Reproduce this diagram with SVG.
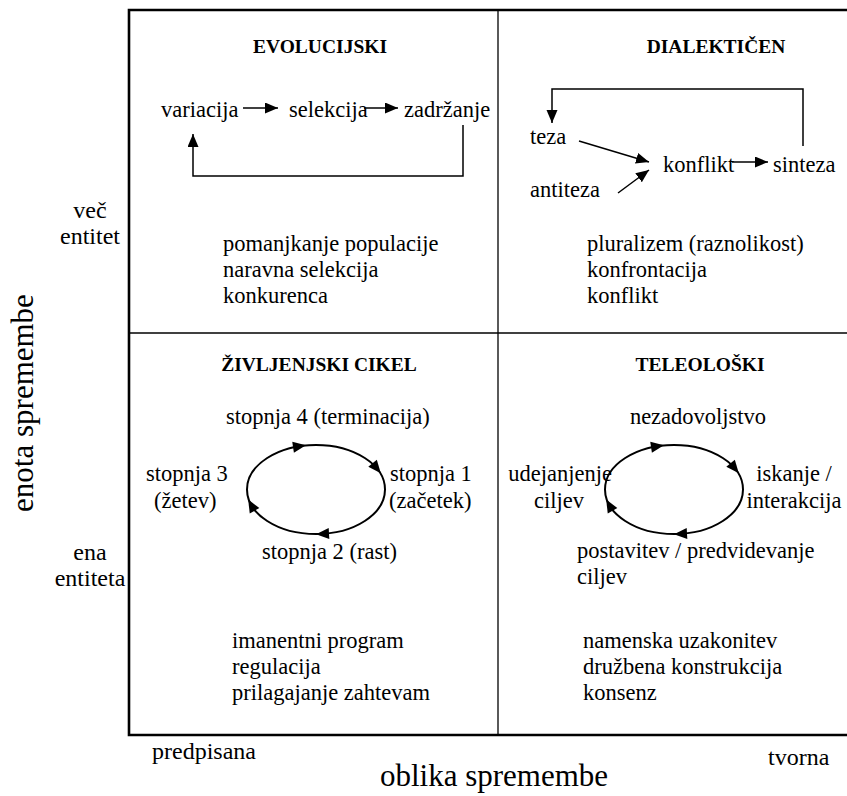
<svg xmlns="http://www.w3.org/2000/svg" xmlns:xlink="http://www.w3.org/1999/xlink" width="847" height="796" viewBox="0 0 847 796">
  <style>
    text { font-family: "Liberation Serif", "Times New Roman", serif; fill: #000; }
    .t { font-size: 22.5px; }
    .h { font-size: 19.5px; font-weight: bold; text-anchor: middle; }
    .ax { font-size: 24px; }
    .axl { font-size: 31px; }
    .mid { text-anchor: middle; }
    .end { text-anchor: end; }
    .frame { fill: none; stroke: #000; stroke-width: 2.6; }
    .div { fill: none; stroke: #000; stroke-width: 1.3; }
    .ln { fill: none; stroke: #000; stroke-width: 1.5; }
    .cyc { fill: none; stroke: #000; stroke-width: 2; }
  </style>
  <defs>
    <marker id="arr" markerUnits="userSpaceOnUse" markerWidth="15" markerHeight="12" refX="13" refY="5.5" orient="auto">
      <path d="M0,0 L13,5.5 L0,11 Z" fill="#000"/>
    </marker>
    <!-- arrowhead placed along the cycle ellipses -->
    <path id="ah" d="M6,0 L-7,-5.5 L-7,5.5 Z" fill="#000"/>
  </defs>

  <!-- outer frame and quadrant dividers -->
  <g id="frame">
    <path class="frame" d="M860,10 H129 V735 H860"/>
    <line class="div" x1="498" y1="10" x2="498" y2="735"/>
    <line class="div" x1="129" y1="333" x2="860" y2="333"/>
  </g>

  <!-- vertical axis -->
  <g id="axis-y">
    <text class="ax mid" x="90" y="218">več</text>
    <text class="ax mid" x="90" y="244">entitet</text>
    <text class="axl mid" font-size="30" transform="translate(33,403) rotate(-90)">enota spremembe</text>
    <text class="ax mid" x="90" y="560">ena</text>
    <text class="ax mid" x="90" y="586">entiteta</text>
  </g>

  <!-- horizontal axis -->
  <g id="axis-x">
    <text class="ax" x="152" y="759">predpisana</text>
    <text class="ax" x="768" y="765">tvorna</text>
    <text class="axl mid" x="494" y="786">oblika spremembe</text>
  </g>

  <!-- quadrant: evolutionary -->
  <g id="evolucijski">
    <text class="h" x="320" y="53">EVOLUCIJSKI</text>
    <text class="t" x="161" y="117">variacija</text>
    <text class="t" x="289" y="117">selekcija</text>
    <text class="t" x="404" y="117">zadržanje</text>
    <text class="t" x="223" y="251">pomanjkanje populacije</text>
    <text class="t" x="223" y="277">naravna selekcija</text>
    <text class="t" x="223" y="303">konkurenca</text>
  </g>

  <!-- quadrant: dialectic -->
  <g id="dialekticen">
    <text class="h" x="716" y="53">DIALEKTIČEN</text>
    <text class="t" x="530" y="144">teza</text>
    <text class="t" x="530" y="197">antiteza</text>
    <text class="t" x="663" y="172">konflikt</text>
    <text class="t" x="773" y="172">sinteza</text>
    <text class="t" x="587" y="251">pluralizem (raznolikost)</text>
    <text class="t" x="587" y="277">konfrontacija</text>
    <text class="t" x="587" y="303">konflikt</text>
  </g>

  <!-- quadrant: life cycle -->
  <g id="zivljenjski-cikel">
    <text class="h" x="319" y="371">ŽIVLJENJSKI CIKEL</text>
    <text class="t" x="226" y="424">stopnja 4 (terminacija)</text>
    <text class="t" x="146" y="481">stopnja 3</text>
    <text class="t" x="154" y="508">(žetev)</text>
    <text class="t" x="390" y="481">stopnja 1</text>
    <text class="t" x="389" y="508">(začetek)</text>
    <text class="t" x="262" y="559">stopnja 2 (rast)</text>
    <text class="t" x="232" y="648">imanentni program</text>
    <text class="t" x="232" y="674">regulacija</text>
    <text class="t" x="232" y="700">prilagajanje zahtevam</text>
  </g>

  <!-- quadrant: teleological -->
  <g id="teleoloski">
    <text class="h" x="700" y="371">TELEOLOŠKI</text>
    <text class="t mid" x="698" y="424">nezadovoljstvo</text>
    <text class="t end" x="612" y="481">udejanjenje</text>
    <text class="t mid" x="559" y="508">ciljev</text>
    <text class="t mid" x="794" y="481">iskanje /</text>
    <text class="t mid" x="794" y="508">interakcija</text>
    <text class="t" x="577" y="558">postavitev / predvidevanje</text>
    <text class="t" x="577" y="584">ciljev</text>
    <text class="t" x="583" y="648">namenska uzakonitev</text>
    <text class="t" x="583" y="674">družbena konstrukcija</text>
    <text class="t" x="583" y="700">konsenz</text>
  </g>

  <!-- connectors -->
  <g id="connectors">
    <!-- evolutionary chain and feedback -->
    <line class="ln" x1="243" y1="108" x2="278" y2="108" marker-end="url(#arr)"/>
    <line class="ln" x1="364" y1="108" x2="398" y2="108" marker-end="url(#arr)"/>
    <polyline class="ln" points="463,125 463,176 193,176 193,134" marker-end="url(#arr)"/>
    <!-- dialectic -->
    <polyline class="ln" points="803,146 803,89 552,89 552,123" marker-end="url(#arr)"/>
    <line class="ln" x1="579" y1="141" x2="649" y2="162" marker-end="url(#arr)"/>
    <line class="ln" x1="618" y1="193" x2="649" y2="170" marker-end="url(#arr)"/>
    <line class="ln" x1="732" y1="162" x2="768" y2="162" marker-end="url(#arr)"/>
    <!-- life cycle loop (clockwise) -->
    <ellipse class="cyc" cx="316" cy="489.5" rx="69" ry="44.5"/>
    <use xlink:href="#ah" transform="translate(300,446.2) rotate(-8.7)"/>
    <use xlink:href="#ah" transform="translate(377,468.7) rotate(50.6)"/>
    <use xlink:href="#ah" transform="translate(322,533.8) rotate(176.8)"/>
    <use xlink:href="#ah" transform="translate(251.1,504.7) rotate(-119.5)"/>
    <!-- teleological loop (clockwise) -->
    <ellipse class="cyc" cx="674" cy="489.5" rx="69" ry="44.5"/>
    <use xlink:href="#ah" transform="translate(658,446.2) rotate(-8.7)"/>
    <use xlink:href="#ah" transform="translate(735,468.7) rotate(50.6)"/>
    <use xlink:href="#ah" transform="translate(680,533.8) rotate(176.8)"/>
    <use xlink:href="#ah" transform="translate(609.1,504.7) rotate(-119.5)"/>
  </g>
</svg>
